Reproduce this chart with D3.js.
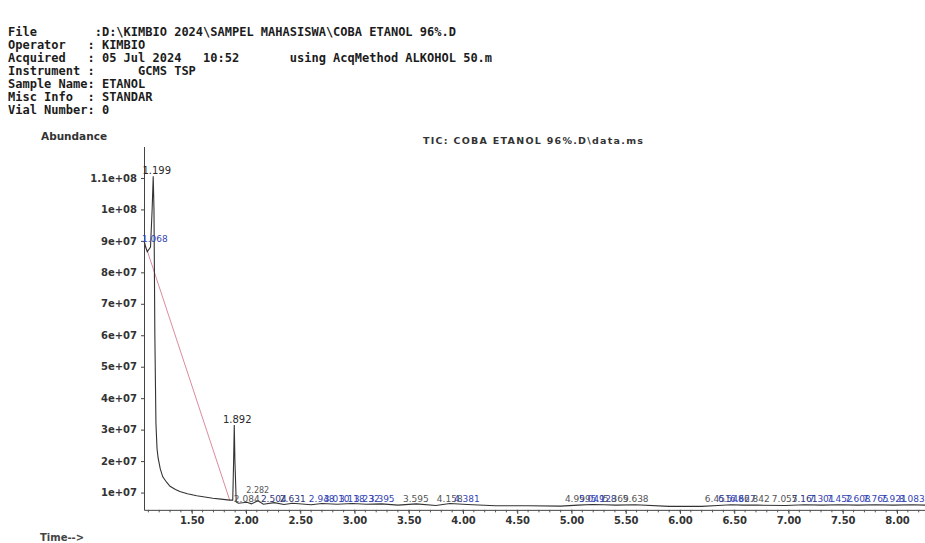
<!DOCTYPE html>
<html>
<head>
<meta charset="utf-8">
<script src="https://cdn.jsdelivr.net/npm/d3@7"></script>
<style>
  html, body { margin: 0; padding: 0; background: #fff; }
  svg { display: block; }
  text { white-space: pre; }
</style>
</head>
<body>
<script>
// ---- data ----
const headerLines = [
    "File        :D:\\KIMBIO 2024\\SAMPEL MAHASISWA\\COBA ETANOL 96%.D",
    "Operator   : KIMBIO",
    "Acquired   : 05 Jul 2024   10:52       using AcqMethod ALKOHOL 50.m",
    "Instrument :      GCMS TSP",
    "Sample Name: ETANOL",
    "Misc Info  : STANDAR",
    "Vial Number: 0"
];
const chartTitle = "TIC: COBA ETANOL 96%.D\\data.ms";

const yTickLabels = ["1e+07", "2e+07", "3e+07", "4e+07", "5e+07", "6e+07", "7e+07", "8e+07", "9e+07", "1e+08", "1.1e+08"];
const xTickLabels = ["1.50", "2.00", "2.50", "3.00", "3.50", "4.00", "4.50", "5.00", "5.50", "6.00", "6.50", "7.00", "7.50", "8.00"];

// TIC trace (min, abundance)
const traceTime = [1.06, 1.075, 1.09, 1.12, 1.135, 1.145, 1.152, 1.16, 1.17, 1.18, 1.19, 1.21, 1.233, 1.27, 1.30, 1.35, 1.39,
    1.46, 1.546, 1.62, 1.694, 1.77, 1.85, 1.878, 1.886, 1.892, 1.898, 1.91,
    1.93, 2.01, 2.05, 2.11, 2.16, 2.26, 2.35, 2.43, 2.6, 2.7, 2.84, 2.98, 3.11, 3.25, 3.4, 3.57, 3.75, 3.88, 4.04,
    4.3, 4.6, 4.9, 5.06, 5.19, 5.3, 5.41, 5.59, 5.9, 6.2, 6.35, 6.47, 6.58, 6.71, 6.97, 7.15, 7.31, 7.47, 7.64,
    7.8, 7.97, 8.14, 8.26];
const traceAbund = [9.0e7, 8.8e7, 8.65e7, 8.8e7, 1.0e8, 1.105e8, 1.0e8, 6.0e7, 3.2e7, 2.4e7, 2.1e7, 1.75e7, 1.5e7, 1.32e7, 1.2e7, 1.1e7, 1.03e7,
    9.6e6, 9.0e6, 8.6e6, 8.2e6, 7.9e6, 7.6e6, 7.6e6, 2.0e7, 3.15e7, 2.0e7, 7.0e6,
    6.6e6, 6.9e6, 6.4e6, 7.4e6, 6.3e6, 6.8e6, 6.2e6, 6.6e6, 6.1e6, 6.5e6, 6.3e6, 6.5e6, 6.3e6, 6.4e6, 6.0e6, 6.4e6, 5.9e6, 6.5e6, 6.2e6,
    5.8e6, 5.8e6, 5.7e6, 6.0e6, 6.2e6, 6.1e6, 6.0e6, 6.1e6, 5.6e6, 5.6e6, 5.9e6, 6.1e6, 6.0e6, 6.0e6, 5.9e6, 6.1e6, 6.0e6, 6.1e6, 6.0e6,
    6.1e6, 6.0e6, 6.1e6, 6.0e6];

// labelled main peaks
const peakTimes = [1.15, 1.892];
const peakAbund = [1.105e8, 3.15e7];
const peakTexts = ["1.199", "1.892"];

// integration baseline drawn by the data system (start, end)
const baseTime = [1.06, 1.85];
const baseAbund = [9.0e7, 7.6e6];

// crowded retention-time labels along the baseline; kind "e" = blue event label, "d" = dark blue
const smallTimes = [1.16, 2.007, 2.108, 2.256, 2.431, 2.698, 2.836, 2.975, 3.113, 3.251, 3.565, 3.878, 4.035,
    5.058, 5.187, 5.297, 5.408, 5.592, 6.348, 6.468, 6.579, 6.708, 6.965, 7.149, 7.306, 7.472, 7.638, 7.804, 7.970, 8.136];
const smallAbund = [8.9e7, 6.4e6, 9.2e6, 6.4e6, 6.4e6, 6.4e6, 6.4e6, 6.4e6, 6.4e6, 6.4e6, 6.4e6, 6.4e6, 6.4e6,
    6.4e6, 6.4e6, 6.4e6, 6.4e6, 6.4e6, 6.4e6, 6.4e6, 6.4e6, 6.4e6, 6.4e6, 6.4e6, 6.4e6, 6.4e6, 6.4e6, 6.4e6, 6.4e6, 6.4e6];
const smallTexts = ["1.068", "2.084", "2.282", "2.504", "2.631", "2.948", "3.010", "3.118", "3.232", "3.395", "3.595", "4.158", "4.381",
    "4.999", "5.049", "5.128", "5.369", "5.638", "6.451", "6.548", "6.627", "6.842", "7.055", "7.161", "7.301", "7.452", "7.608", "7.765", "7.921", "8.083"];
const smallKind = ["e", "p", "p", "d", "d", "e", "e", "e", "e", "e", "p", "p", "e",
    "p", "e", "e", "p", "p", "p", "e", "e", "p", "p", "d", "e", "e", "e", "e", "e", "e"];

// ---- drawing ----
const W = 925, H = 543;
const svg = d3.select("body").append("svg").attr("width", W).attr("height", H);

const textCol = "#2a2a2a";
const sans = "'DejaVu Sans', sans-serif";

// header block
svg.selectAll("text.hdr")
    .data(headerLines)
    .enter()
    .append("text")
    .attr("class", "hdr")
    .attr("x", 8)
    .attr("y", (d, i) => 36 + i * 13)
    .attr("xml:space", "preserve")
    .style("font-family", "'DejaVu Sans Mono', monospace")
    .style("font-size", "12px")
    .style("font-weight", "bold")
    .style("fill", "#1c1c1c")
    .text(d => d);

const x = d3.scaleLinear().domain([1.06, 8.26]).range([144, 925.2]);
const y = d3.scaleLinear().domain([4.5e6, 1.2e8]).range([509.85, 146.5]);

// axes
const yAxis = svg.append("g")
    .attr("transform", "translate(" + x(1.06) + ",0)")
    .call(d3.axisLeft(y)
        .tickValues(yTickLabels.map(Number))
        .tickFormat((d, i) => yTickLabels[i])
        .tickSize(3)
        .tickSizeOuter(0)
        .tickPadding(4));

const xAxis = svg.append("g")
    .attr("transform", "translate(0," + y(4.5e6) + ")")
    .call(d3.axisBottom(x)
        .tickValues(xTickLabels.map(Number))
        .tickFormat((d, i) => xTickLabels[i])
        .tickSize(4)
        .tickSizeOuter(0)
        .tickPadding(3));

// minor ticks every 0.1 min
svg.append("g")
    .attr("transform", "translate(0," + y(4.5e6) + ")")
    .selectAll("line")
    .data(d3.range(11, 83).map(v => v / 10))
    .enter()
    .append("line")
    .attr("x1", d => x(d)).attr("x2", d => x(d))
    .attr("y1", 0).attr("y2", 2.5)
    .style("stroke", "#555");

[xAxis, yAxis].forEach(g => {
    g.selectAll("path, line").style("stroke", "#444");
    g.selectAll("text")
        .style("font-family", sans)
        .style("font-size", "10px")
        .style("font-weight", "bold")
        .style("fill", "#333");
});

// axis titles
svg.append("text")
    .attr("x", 41).attr("y", 140)
    .style("font-family", sans).style("font-size", "10.5px").style("font-weight", "bold")
    .style("fill", "#333")
    .text("Abundance");

svg.append("text")
    .attr("x", 40).attr("y", 541)
    .style("font-family", sans).style("font-size", "10px").style("font-weight", "bold")
    .style("fill", "#444")
    .text("Time-->");

svg.append("text")
    .attr("x", 423).attr("y", 144)
    .attr("textLength", 220)
    .style("font-family", sans).style("font-size", "9.5px").style("font-weight", "bold")
    .style("fill", "#333")
    .text(chartTitle);

// integration baseline
svg.append("line")
    .attr("x1", x(baseTime[0])).attr("y1", y(baseAbund[0]))
    .attr("x2", x(baseTime[1])).attr("y2", y(baseAbund[1]))
    .style("stroke", "#d98c9c")
    .style("stroke-width", 1);

// TIC trace
const trace = traceTime.map((t, i) => ({ t: t, v: traceAbund[i] }));
svg.append("path")
    .datum(trace)
    .attr("d", d3.line().x(d => x(d.t)).y(d => y(d.v)))
    .style("fill", "none")
    .style("stroke", "#333")
    .style("stroke-width", 1.1);

// baseline labels (they overlap on the printout too)
svg.selectAll("text.small")
    .data(smallTexts)
    .enter()
    .append("text")
    .attr("class", "small")
    .attr("x", (d, i) => x(smallTimes[i]))
    .attr("y", (d, i) => y(smallAbund[i]) - 2)
    .attr("text-anchor", "middle")
    .style("font-family", sans)
    .style("font-size", (d, i) => (i === 2 ? "8px" : "9px"))
    .style("fill", (d, i) => smallKind[i] === "e" ? "#3444b4" : (smallKind[i] === "d" ? "#2c3478" : "#555"))
    .text(d => d);

// main peak labels
svg.selectAll("text.peak")
    .data(peakTexts)
    .enter()
    .append("text")
    .attr("class", "peak")
    .attr("x", (d, i) => x(peakTimes[i]) + 3)
    .attr("y", (d, i) => y(peakAbund[i]) - 2)
    .attr("text-anchor", "middle")
    .style("font-family", sans)
    .style("font-size", "10px")
    .style("fill", textCol)
    .text(d => d);
</script>
</body>
</html>
